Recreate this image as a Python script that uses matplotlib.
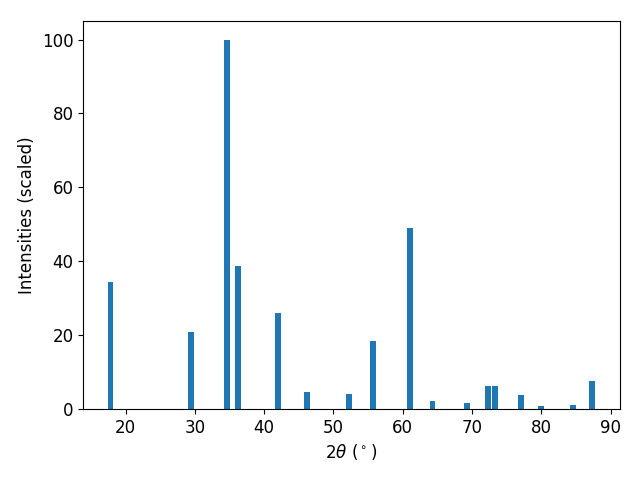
import matplotlib
matplotlib.use("Agg")
import matplotlib.pyplot as plt

# peak positions (2theta, degrees) and scaled intensities
two_theta = [17.83, 29.40, 34.67, 36.26, 42.05, 46.16, 52.20, 55.70, 61.10,
             64.30, 69.30, 72.24, 73.25, 77.08, 79.90, 84.60, 87.34]
intensity = [34.4, 20.9, 100.0, 38.75, 26.0, 4.6, 4.1, 18.4, 49.05,
             2.2, 1.6, 6.2, 6.2, 3.8, 0.8, 1.1, 7.6]

plt.rcParams["font.size"] = 12

fig, ax = plt.subplots(figsize=(6.4, 4.8), dpi=100)
ax.bar(two_theta, intensity, width=0.85, color="#1f77b4")
ax.set_xlabel(r"$2\theta$ ($^\circ$)")
ax.set_ylabel("Intensities (scaled)")
fig.subplots_adjust(left=0.13, right=0.968, top=0.956, bottom=0.148)
fig.savefig("out.png")
